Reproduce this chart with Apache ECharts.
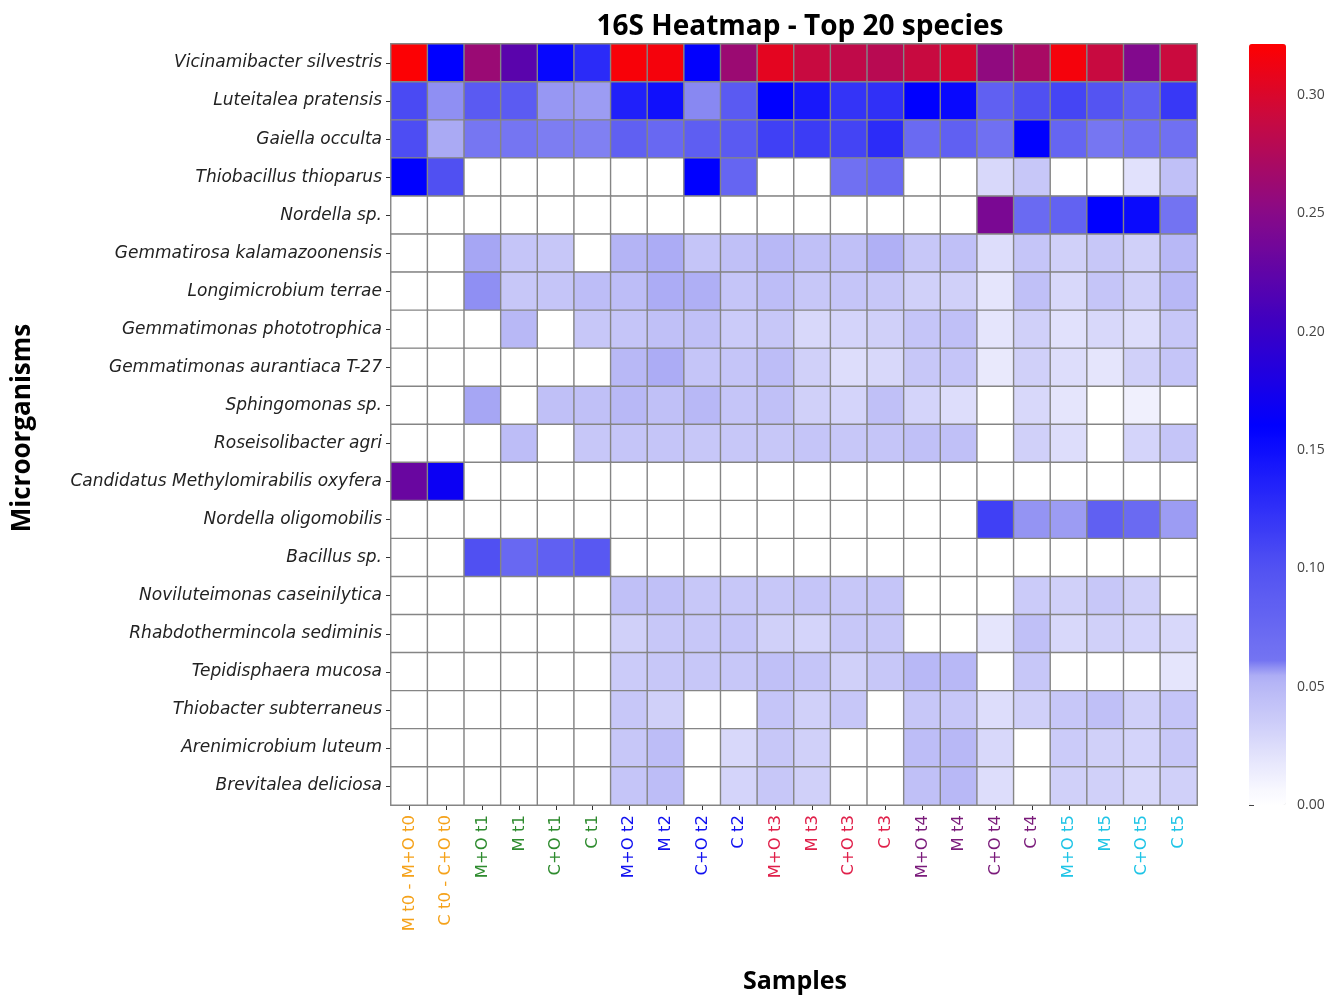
<!DOCTYPE html>
<html>
<head>
<meta charset="utf-8">
<title>16S Heatmap - Top 20 species</title>
<script src="https://cdn.jsdelivr.net/npm/echarts@6/dist/echarts.min.js"></script>
<style>
  html, body { margin: 0; padding: 0; background: #fff; }
  #chart { width: 1344px; height: 997px; }
</style>
</head>
<body>
<div id="chart"></div>
<script>
// samples (x axis)
var samples = ['M t0 - M+O t0', 'C t0 - C+O t0',
  'M+O t1', 'M t1', 'C+O t1', 'C t1',
  'M+O t2', 'M t2', 'C+O t2', 'C t2',
  'M+O t3', 'M t3', 'C+O t3', 'C t3',
  'M+O t4', 'M t4', 'C+O t4', 'C t4',
  'M+O t5', 'M t5', 'C+O t5', 'C t5'];

// species (y axis, top to bottom)
var species = ['Vicinamibacter silvestris', 'Luteitalea pratensis', 'Gaiella occulta',
  'Thiobacillus thioparus', 'Nordella sp.', 'Gemmatirosa kalamazoonensis',
  'Longimicrobium terrae', 'Gemmatimonas phototrophica', 'Gemmatimonas aurantiaca T-27',
  'Sphingomonas sp.', 'Roseisolibacter agri', 'Candidatus Methylomirabilis oxyfera',
  'Nordella oligomobilis', 'Bacillus sp.', 'Noviluteimonas caseinilytica',
  'Rhabdothermincola sediminis', 'Tepidisphaera mucosa', 'Thiobacter subterraneus',
  'Arenimicrobium luteum', 'Brevitalea deliciosa'];

// relative abundance per species, one value per sample
var vicinamibacter = [0.320, 0.160, 0.261, 0.221, 0.155, 0.129, 0.318, 0.316, 0.162, 0.262, 0.306, 0.290, 0.285, 0.280, 0.290, 0.298, 0.255, 0.270, 0.316, 0.290, 0.246, 0.291];
var luteitalea     = [0.106, 0.058, 0.091, 0.089, 0.0577, 0.0575, 0.137, 0.148, 0.0583, 0.091, 0.160, 0.142, 0.122, 0.125, 0.160, 0.154, 0.084, 0.101, 0.109, 0.098, 0.084, 0.119];
var gaiella        = [0.104, 0.056, 0.0595, 0.060, 0.0588, 0.0586, 0.084, 0.075, 0.086, 0.091, 0.113, 0.116, 0.110, 0.128, 0.073, 0.084, 0.066, 0.160, 0.078, 0.0595, 0.066, 0.066];
var thiobacillus   = [0.160, 0.101, 0, 0, 0, 0, 0, 0, 0.160, 0.079, 0, 0, 0.066, 0.073, 0, 0, 0.027, 0.039, 0, 0, 0.022, 0.044];
var nordellaSp     = [0, 0, 0, 0, 0, 0, 0, 0, 0, 0, 0, 0, 0, 0, 0, 0, 0.241, 0.073, 0.082, 0.160, 0.153, 0.062];
var gemmatirosa    = [0, 0, 0.057, 0.041, 0.039, 0, 0.052, 0.055, 0.041, 0.044, 0.050, 0.044, 0.044, 0.0535, 0.039, 0.044, 0.024, 0.041, 0.033, 0.039, 0.033, 0.050];
var longimicrobium = [0, 0, 0.058, 0.039, 0.041, 0.047, 0.047, 0.055, 0.054, 0.041, 0.047, 0.039, 0.041, 0.039, 0.033, 0.033, 0.019, 0.044, 0.027, 0.041, 0.033, 0.050];
var gemmPhoto      = [0, 0, 0, 0.050, 0, 0.039, 0.041, 0.044, 0.044, 0.036, 0.039, 0.027, 0.030, 0.033, 0.041, 0.044, 0.019, 0.033, 0.022, 0.027, 0.024, 0.039];
var gemmAurant     = [0, 0, 0, 0, 0, 0, 0.050, 0.055, 0.041, 0.041, 0.047, 0.033, 0.024, 0.027, 0.039, 0.041, 0.0165, 0.033, 0.024, 0.019, 0.033, 0.041];
var sphingomonas   = [0, 0, 0.057, 0, 0.044, 0.044, 0.050, 0.044, 0.050, 0.041, 0.044, 0.033, 0.030, 0.044, 0.030, 0.024, 0, 0.027, 0.019, 0, 0.012, 0];
var roseisolibacter = [0, 0, 0, 0.047, 0, 0.039, 0.041, 0.041, 0.039, 0.039, 0.039, 0.041, 0.039, 0.041, 0.044, 0.044, 0, 0.033, 0.024, 0, 0.030, 0.041];
var methylomirabilis = [0.231, 0.168, 0, 0, 0, 0, 0, 0, 0, 0, 0, 0, 0, 0, 0, 0, 0, 0, 0, 0, 0, 0];
var nordellaOligo  = [0, 0, 0, 0, 0, 0, 0, 0, 0, 0, 0, 0, 0, 0, 0, 0, 0.113, 0.0578, 0.0575, 0.084, 0.073, 0.0575];
var bacillus       = [0, 0, 0.101, 0.075, 0.084, 0.093, 0, 0, 0, 0, 0, 0, 0, 0, 0, 0, 0, 0, 0, 0, 0, 0];
var noviluteimonas = [0, 0, 0, 0, 0, 0, 0.044, 0.044, 0.039, 0.039, 0.039, 0.041, 0.039, 0.041, 0, 0, 0, 0.036, 0.033, 0.039, 0.033, 0];
var rhabdothermincola = [0, 0, 0, 0, 0, 0, 0.033, 0.039, 0.039, 0.041, 0.033, 0.030, 0.039, 0.039, 0, 0, 0.019, 0.044, 0.027, 0.033, 0.030, 0.027];
var tepidisphaera  = [0, 0, 0, 0, 0, 0, 0.036, 0.039, 0.039, 0.039, 0.044, 0.041, 0.033, 0.039, 0.050, 0.050, 0, 0.039, 0, 0, 0, 0.019];
var thiobacter     = [0, 0, 0, 0, 0, 0, 0.039, 0.033, 0, 0, 0.041, 0.033, 0.039, 0, 0.039, 0.039, 0.024, 0.033, 0.039, 0.044, 0.033, 0.041];
var arenimicrobium = [0, 0, 0, 0, 0, 0, 0.039, 0.047, 0, 0.027, 0.039, 0.033, 0, 0, 0.047, 0.050, 0.027, 0, 0.036, 0.033, 0.030, 0.039];
var brevitalea     = [0, 0, 0, 0, 0, 0, 0.041, 0.047, 0, 0.030, 0.039, 0.033, 0, 0, 0.044, 0.050, 0.024, 0, 0.033, 0.033, 0.027, 0.033];

var rows = [vicinamibacter, luteitalea, gaiella, thiobacillus, nordellaSp, gemmatirosa,
  longimicrobium, gemmPhoto, gemmAurant, sphingomonas, roseisolibacter, methylomirabilis,
  nordellaOligo, bacillus, noviluteimonas, rhabdothermincola, tepidisphaera, thiobacter,
  arenimicrobium, brevitalea];

// colour bar ticks
var cbarTicks = [0, 0.05, 0.10, 0.15, 0.20, 0.25, 0.30];
var cbarMax = 0.3216;

// label colour per time point
var timeColors = { t0: '#f5a21a', t1: '#2e8b2e', t2: '#1010f0', t3: '#e0204a', t4: '#7a1a7a', t5: '#1ec4e6' };

// colormap (white -> lavender | blue -> purple -> red)
var cmapStops = [
  [0.000, '#ffffff'], [0.008, '#f6f6fe'], [0.030, '#d4d4fa'], [0.050, '#b8b8f6'],
  [0.057, '#a8a8f4'], [0.059, '#7676f2'], [0.100, '#5252f2'], [0.160, '#0000ff'],
  [0.205, '#4000c0'], [0.250, '#880a88'], [0.290, '#c80a40'], [0.322, '#ff0000']
];

function hexToRgb(h) {
  return [parseInt(h.substr(1, 2), 16), parseInt(h.substr(3, 2), 16), parseInt(h.substr(5, 2), 16)];
}
function cmap(v) {
  for (var i = 1; i < cmapStops.length; i++) {
    if (v <= cmapStops[i][0] || i === cmapStops.length - 1) {
      var a = cmapStops[i - 1], b = cmapStops[i];
      var t = Math.max(0, Math.min(1, (v - a[0]) / (b[0] - a[0])));
      var ca = hexToRgb(a[1]), cb = hexToRgb(b[1]);
      return 'rgb(' + ca.map(function (c, k) { return Math.round(c + (cb[k] - c) * t); }).join(',') + ')';
    }
  }
}
var cmapColors = [];
for (var s = 0; s <= 400; s++) cmapColors.push(cmap(cbarMax * s / 400));

var heatData = [];
rows.forEach(function (row, y) {
  row.forEach(function (v, x) { heatData.push([x, y, v]); });
});

var myChart = echarts.init(document.getElementById('chart'));
var option = {
  backgroundColor: '#ffffff',
  animation: false,
  title: {
    text: '16S Heatmap - Top 20 species',
    left: 795,
    top: 8,
    textAlign: 'center',
    textStyle: { fontFamily: 'Open Sans', fontWeight: 'bold', fontSize: 28, color: '#000' }
  },
  grid: [
    { left: 391, top: 44, width: 806, height: 761 },
    { left: 1249, top: 44, width: 37, height: 761 }
  ],
  xAxis: [{
    type: 'category',
    data: samples,
    gridIndex: 0,
    position: 'bottom',
    axisLine: { show: false },
    axisTick: { show: true, alignWithLabel: true, length: 5, lineStyle: { color: '#333' } },
    splitLine: { show: false },
    axisLabel: {
      rotate: 90,
      margin: 10,
      fontFamily: 'DejaVu Sans',
      fontSize: 16.5,
      color: function (val) { return timeColors[val.slice(-2)]; }
    }
  }, {
    type: 'value', gridIndex: 1, show: false, min: 0, max: 1
  }],
  yAxis: [{
    type: 'category',
    data: species,
    gridIndex: 0,
    inverse: true,
    axisLine: { show: false },
    axisTick: { show: true, alignWithLabel: true, length: 5, lineStyle: { color: '#333' } },
    splitLine: { show: false },
    axisLabel: {
      margin: 9,
      fontFamily: 'DejaVu Sans',
      fontStyle: 'italic',
      fontSize: 17,
      color: '#222'
    }
  }, {
    type: 'value',
    gridIndex: 1,
    position: 'right',
    min: 0,
    max: cbarMax,
    axisLine: { show: false },
    splitLine: { show: false },
    axisTick: { show: true, length: 5, lineStyle: { color: '#444' }, customValues: cbarTicks },
    axisLabel: {
      margin: 11,
      fontFamily: 'Open Sans',
      fontSize: 14,
      color: '#444',
      customValues: cbarTicks,
      formatter: function (v) { return v.toFixed(2); }
    }
  }],
  visualMap: {
    type: 'continuous',
    seriesIndex: 0,
    min: 0,
    max: cbarMax,
    calculable: false,
    orient: 'vertical',
    left: 1249,
    top: 44,
    itemWidth: 37,
    itemHeight: 761,
    padding: 0,
    text: null,
    showLabel: false,
    inRange: { color: cmapColors }
  },
  graphic: [{
    type: 'text',
    x: 23, y: 428, rotation: Math.PI / 2,
    style: { text: 'Microorganisms', fontFamily: 'Open Sans', fontWeight: 'bold', fontSize: 26,
      fill: '#000', align: 'center', verticalAlign: 'middle' }
  }, {
    type: 'text',
    x: 795, y: 982,
    style: { text: 'Samples', fontFamily: 'Open Sans', fontWeight: 'bold', fontSize: 25,
      fill: '#000', align: 'center', verticalAlign: 'middle' }
  }],
  series: [{
    type: 'heatmap',
    xAxisIndex: 0,
    yAxisIndex: 0,
    data: heatData,
    itemStyle: { borderColor: '#858585', borderWidth: 1.4 },
    emphasis: { disabled: true }
  }, {
    type: 'line',
    xAxisIndex: 1,
    yAxisIndex: 1,
    data: [],
    silent: true
  }]
};
myChart.setOption(option);
</script>
</body>
</html>
